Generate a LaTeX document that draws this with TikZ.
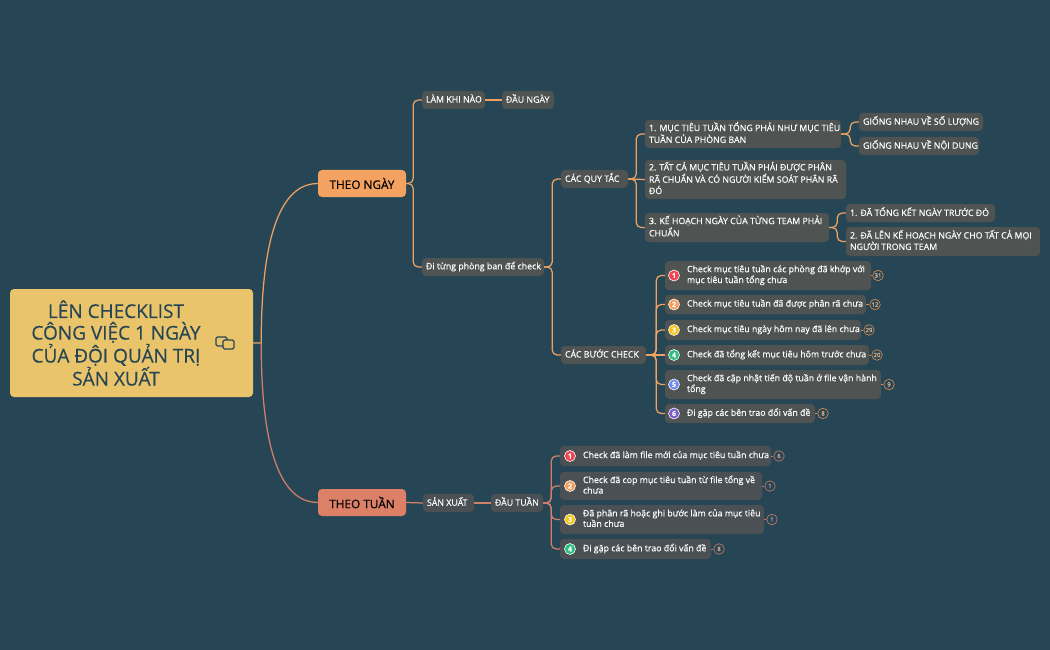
\documentclass[tikz,border=0pt]{standalone}
\usepackage{fontspec}
\setmainfont[RawFeature={embolden=0.35}]{Open Sans}
\definecolor{bgc}{HTML}{274655}
\definecolor{rootc}{HTML}{E9C46A}
\definecolor{orangec}{HTML}{F4A261}
\definecolor{salmonc}{HTML}{DC8068}
\definecolor{boxa}{HTML}{4F5452}
\definecolor{boxb}{HTML}{4A5054}
\definecolor{linea}{HTML}{EDA262}
\definecolor{lineb}{HTML}{D07F68}
\definecolor{cnta}{HTML}{D0864C}
\definecolor{cntb}{HTML}{C07462}
\definecolor{ired}{HTML}{F0434F}
\definecolor{iorange}{HTML}{F59E5C}
\definecolor{iyellow}{HTML}{F5C518}
\definecolor{igreen}{HTML}{2DBE82}
\definecolor{iblue}{HTML}{6E8CF0}
\definecolor{ipurple}{HTML}{7A5CD0}
\tikzset{
  bx/.style={rounded corners=4pt,inner sep=0pt,text=white,font=\fontsize{8.8}{10.5}\selectfont},
  boxup/.style={bx,fill=boxa},
  boxlo/.style={bx,fill=boxb},
  conna/.style={draw=linea,line width=1.25pt,rounded corners=5pt},
  connb/.style={draw=lineb,line width=1.25pt,rounded corners=5pt},
  branch/.style={rounded corners=4pt,inner sep=0pt,text=black,font=\fontsize{11.8}{13}\selectfont},
  icon/.style={circle,draw=white,line width=.6pt,inner sep=0pt,minimum size=11pt,text=white,font=\fontsize{7}{7}\selectfont\bfseries},
  cnt/.style={circle,line width=.7pt,inner sep=0pt,minimum size=10.5pt,font=\fontsize{6}{6}\selectfont},
  cntup/.style={cnt,draw=cnta,text=cnta!60!white},
  cntlo/.style={cnt,draw=cntb,text=cntb!60!white},
  tick/.style={line width=.7pt}
}
% name, x1, y1, x2, y2, left padding, lines, style
\newcommand{\xbox}[8][boxup]{%
  \pgfmathsetmacro{\bw}{#4-#2}\pgfmathsetmacro{\bh}{#5-#3}%
  \pgfmathsetmacro{\cx}{(#2+#4)/2}\pgfmathsetmacro{\cy}{(#3+#5)/2}%
  \node[#1,minimum width=\bw pt,minimum height=\bh pt] (#6) at (\cx,\cy)
    {\hbox to \bw pt{\kern #7pt\raisebox{-.6pt}{\begin{tabular}{@{}l@{}}#8\end{tabular}}\hss}};}
\begin{document}
\begin{tikzpicture}[x=1pt,y=-1pt]
\useasboundingbox (0,0) rectangle (1050,650);
\fill[bgc] (0,0) rectangle (1050,650);

% root
\node[rounded corners=4pt,fill=rootc,minimum width=243pt,minimum height=108pt,inner sep=0pt] (root) at (131.5,343) {};
\node[inner sep=0pt,text=bgc,align=center,font=\fontsize{19}{21.6}\selectfont] (roottext) at (116,343)
  {LÊN CHECKLIST\\CÔNG VIỆC 1 NGÀY\\CỦA ĐỘI QUẢN TRỊ\\SẢN XUẤT};
\draw[bgc,line width=1.1pt,rounded corners=1.5pt] (227,340) -- (227,337) -- (216,337) -- (216,346) -- (223,346);
\draw[bgc,line width=1.1pt,rounded corners=1.5pt] (223,346) -- (223,340) -- (234,340) -- (234,349) -- (223,349) -- cycle;

% branches
\node[branch,fill=orangec,minimum width=88pt,minimum height=27pt] (ngay) at (362,183.5) {THEO NGÀY};
\node[branch,fill=salmonc,minimum width=88pt,minimum height=27pt] (tuan) at (362,502.5) {THEO TUẦN};

% upper boxes
\xbox{422}{91}{485}{109}{lamkhi}{4}{LÀM KHI NÀO}
\xbox{502}{91}{554}{109}{daungay}{4}{ĐẦU NGÀY}
\xbox{422}{258}{544}{276}{ditung}{4}{Đi từng phòng ban để check}
\xbox{561}{170}{628}{188}{quytac}{4}{CÁC QUY TẮC}
\xbox{561}{346}{646}{364}{buoc}{4}{CÁC BƯỚC CHECK}
\xbox{645}{120}{841}{148}{mt}{4}{1. MỤC TIÊU TUẦN TỔNG PHẢI NHƯ MỤC TIÊU\\TUẦN CỦA PHÒNG BAN}
\xbox{645}{160}{846}{199}{tatca}{4}{2. TẤT CẢ MỤC TIÊU TUẦN PHẢI ĐƯỢC PHÂN\\RÃ CHUẨN VÀ CÓ NGƯỜI KIỂM SOÁT PHÂN RÃ\\ĐÓ}
\xbox{645}{213}{829}{242}{kh}{4}{3. KẾ HOẠCH NGÀY CỦA TỪNG TEAM PHẢI\\CHUẨN}
\xbox{859}{113}{983}{131}{gn1}{4}{GIỐNG NHAU VỀ SỐ LƯỢNG}
\xbox{859}{137}{979}{155}{gn2}{4}{GIỐNG NHAU VỀ NỘI DUNG}
\xbox{846}{204}{995}{222}{da1}{4}{1. ĐÃ TỔNG KẾT NGÀY TRƯỚC ĐÓ}
\xbox{846}{227}{1040}{256}{da2}{4}{2. ĐÃ LÊN KẾ HOẠCH NGÀY CHO TẤT CẢ MỌI\\NGƯỜI TRONG TEAM}
\xbox{665}{261}{871}{290}{c1}{22}{Check mục tiêu tuần các phòng đã khớp với\\mục tiêu tuần tổng chưa}
\xbox{665}{295}{866}{314}{c2}{22}{Check mục tiêu tuần đã được phân rã chưa}
\xbox{665}{320}{861}{340}{c3}{22}{Check mục tiêu ngày hôm nay đã lên chưa}
\xbox{665}{345}{869}{365}{c4}{22}{Check đã tổng kết mục tiêu hôm trước chưa}
\xbox{665}{370}{881}{399}{c5}{22}{Check đã cập nhật tiến độ tuần ở file vận hành\\tổng}
\xbox{665}{404}{815}{423}{c6}{22}{Đi gặp các bên trao đổi vấn đề}

% lower boxes
\xbox[boxlo]{423}{494}{474}{512}{sanxuat}{4}{SẢN XUẤT}
\xbox[boxlo]{491}{494}{543}{512}{dautuan}{4}{ĐẦU TUẦN}
\xbox[boxlo]{560}{446}{771}{466}{d1}{23}{Check đã làm file mới của mục tiêu tuần chưa}
\xbox[boxlo]{560}{472}{762}{500}{d2}{23}{Check đã cop mục tiêu tuần từ file tổng về\\chưa}
\xbox[boxlo]{560}{505}{764}{534}{d3}{23}{Đã phân rã hoặc ghi bước làm của mục tiêu\\tuần chưa}
\xbox[boxlo]{560}{539}{711}{559}{d4}{23}{Đi gặp các bên trao đổi vấn đề}

% icons
\node[icon,fill=ired] (ic1) at (674,275.5) {1};
\node[icon,fill=iorange] (ic2) at (674,304.5) {2};
\node[icon,fill=iyellow] (ic3) at (674,330) {3};
\node[icon,fill=igreen] (ic4) at (674,355) {4};
\node[icon,fill=iblue] (ic5) at (674,384.5) {5};
\node[icon,fill=ipurple] (ic6) at (674,413.5) {6};
\node[icon,fill=ired] (id1) at (570,456) {1};
\node[icon,fill=iorange] (id2) at (570,486) {2};
\node[icon,fill=iyellow] (id3) at (570,519.5) {3};
\node[icon,fill=igreen] (id4) at (570,549) {4};

% counts
\node[cntup] (n1) at (878,275.5) {31};
\node[cntup] (n2) at (875,304.5) {12};
\node[cntup] (n3) at (869,330) {29};
\node[cntup] (n4) at (877,355) {20};
\node[cntup] (n5) at (889,384.5) {9};
\node[cntup] (n6) at (823,413.5) {8};
\node[cntlo] (m1) at (779,456) {6};
\node[cntlo] (m2) at (770,486) {1};
\node[cntlo] (m3) at (772,519.5) {1};
\node[cntlo] (m4) at (719,549) {8};

\foreach \a/\b in {c1/n1,c2/n2,c3/n3,c4/n4,c5/n5,c6/n6}
  \draw[tick,cnta] (\a.east) -- (\b.west);
\foreach \a/\b in {d1/m1,d2/m2,d3/m3,d4/m4}
  \draw[tick,cntb] (\a.east) -- (\b.west);

% root connectors
\draw[draw=linea,line width=1.25pt] (root.east) -- ++(8,0) .. controls +(0,-125) and +(-30,0) .. (ngay.west);
\draw[draw=lineb,line width=1.25pt] (root.east) ++(8,0) .. controls +(0,125) and +(-30,0) .. (tuan.west);

% upper connectors
\draw[conna] (ngay.east) -- ++(7,0) |- (lamkhi.west);
\draw[conna] (ngay.east) -- ++(7,0) |- (ditung.west);
\draw[conna] (lamkhi.east) -- (daungay.west);
\draw[conna] (ditung.east) -- ++(8,0) |- (quytac.west);
\draw[conna] (ditung.east) -- ++(8,0) |- (buoc.west);
\draw[conna] (quytac.east) -- ++(8,0) |- (mt.west);
\draw[conna] (quytac.east) -- (tatca.west);
\draw[conna] (quytac.east) -- ++(8,0) |- (kh.west);
\draw[conna] (mt.east) -- ++(9,0) |- (gn1.west);
\draw[conna] (mt.east) -- ++(9,0) |- (gn2.west);
\draw[conna] (kh.east) -- ++(8,0) |- (da1.west);
\draw[conna] (kh.east) -- ++(8,0) |- (da2.west);
\foreach \c in {c1,c2,c3,c5,c6}
  \draw[conna] (buoc.east) -- ++(10,0) |- (\c.west);
\draw[conna] (buoc.east) -- (c4.west);

% lower connectors
\draw[connb] (tuan.east) -- (sanxuat.west);
\draw[connb] (sanxuat.east) -- (dautuan.west);
\foreach \d in {d1,d2,d3,d4}
  \draw[connb] (dautuan.east) -- ++(8,0) |- (\d.west);
\end{tikzpicture}
\end{document}
